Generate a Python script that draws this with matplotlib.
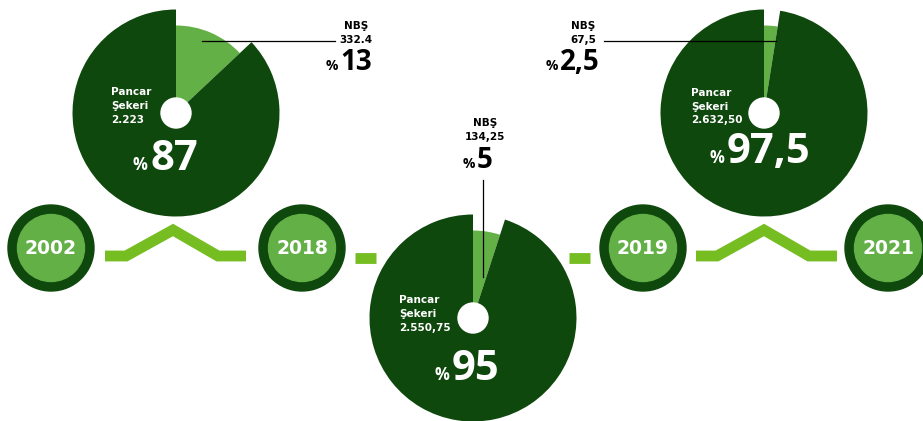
import matplotlib
matplotlib.use('Agg')
import matplotlib.pyplot as plt
from matplotlib.patches import Wedge, Circle

# ---- data ----
years = ['2002', '2018', '2019', '2021']
pancar_values = [2223, 2550.75, 2632.5]
pancar_labels = ['2.223', '2.550,75', '2.632,50']
pancar_pct_labels = ['87', '95', '97,5']
nbs_values = [332.4, 134.25, 67.5]
nbs_labels = ['332.4', '134,25', '67,5']
nbs_pct = [13, 5, 2.5]
nbs_pct_labels = ['13', '5', '2,5']

# ---- style ----
DARK = '#0f480c'
LIGHT = '#62b046'
LINE = '#76bd21'
W, H = 923, 421
FONT = ['Open Sans', 'DejaVu Sans']
SMALL = ['DejaVu Sans']

fig = plt.figure(figsize=(W / 100, H / 100), dpi=100)
ax = fig.add_axes([0, 0, 1, 1])
ax.set_xlim(0, W)
ax.set_ylim(H, 0)
ax.axis('off')

# ---- year circles ----
year_x = [51, 302, 643, 888]
year_y = 248
for x, yr in zip(year_x, years):
    ax.add_patch(Circle((x, year_y), 43, color=DARK, zorder=2))
    ax.add_patch(Circle((x, year_y), 33.5, color=LIGHT, zorder=3))
    ax.text(x, year_y + 1, yr, color='white', fontsize=13.5, fontweight='bold',
            family='DejaVu Sans', ha='center', va='center', zorder=4)

# ---- connectors ----
lw = 7.8
conn_y = 256
for x0 in (105, 696):
    xs = [x0, x0 + 21, x0 + 68, x0 + 113, x0 + 141]
    ys = [conn_y, conn_y, 230, conn_y, conn_y]
    ax.plot(xs, ys, color=LINE, lw=lw, solid_joinstyle='miter',
            solid_capstyle='butt', zorder=1)
for x0 in (355, 569):
    ax.plot([x0, x0 + 21], [258, 258], color=LINE, lw=lw,
            solid_capstyle='butt', zorder=1)

# ---- pies ----
centers = [(176, 113), (473, 318), (764, 113)]
R_DARK, R_LIGHT, R_HOLE = 103.5, 87.5, 15
for i, (cx, cy) in enumerate(centers):
    share = nbs_values[i] / (nbs_values[i] + pancar_values[i])
    a = share * 360
    ax.add_patch(Wedge((cx, cy), R_LIGHT, 270, 270 + a, color=LIGHT, zorder=5, lw=0))
    ax.add_patch(Wedge((cx, cy), R_DARK, 270 + a, 630, color=DARK, zorder=5, lw=0))
    ax.add_patch(Circle((cx, cy), R_HOLE, color='white', zorder=6))

# pancar labels
lab_x = [111, 399, 691]
lab_base = [(95, 109, 123), (303, 317, 331), (96, 110, 123)]
for i in range(3):
    for txt, yb in zip(['Pancar', 'Şekeri', pancar_labels[i]], lab_base[i]):
        ax.text(lab_x[i], yb, txt, color='white', fontsize=7.5, fontweight='bold',
                family=SMALL, ha='left', va='baseline', zorder=7)

# big percentages
big_x = [150, 452, 727]
big_base = [170, 380, 163]
for i in range(3):
    ax.text(big_x[i], big_base[i], pancar_pct_labels[i], color='white', fontsize=30,
            fontweight='bold', family=FONT, ha='left', va='baseline', zorder=7)
    ax.text(big_x[i] - 3, big_base[i], '%', color='white', fontsize=12,
            fontweight='bold', family=FONT, ha='right', va='baseline', zorder=7)

# NBS labels
nbs_cx = [356, 485, 583]
nbs_base = [(29, 43), (126, 140), (29, 43)]
nbs_num_x = [340, 477, 560]
nbs_num_base = [70, 168, 70]
for i in range(3):
    ax.text(nbs_cx[i], nbs_base[i][0], 'NBŞ', color='black', fontsize=7.5,
            fontweight='bold', family=SMALL, ha='center', va='baseline', zorder=7)
    ax.text(nbs_cx[i], nbs_base[i][1], nbs_labels[i], color='black', fontsize=7.5,
            fontweight='bold', family=SMALL, ha='center', va='baseline', zorder=7)
    ax.text(nbs_num_x[i], nbs_num_base[i], nbs_pct_labels[i], color='black',
            fontsize=20, fontweight='bold', family=FONT, ha='left', va='baseline', zorder=7)
    ax.text(nbs_num_x[i] - 2, nbs_num_base[i], '%', color='black', fontsize=10,
            fontweight='bold', family=FONT, ha='right', va='baseline', zorder=7)

# leader lines
ax.plot([202, 335], [41, 41], color='black', lw=0.9, zorder=8)
ax.plot([604, 776], [41, 41], color='black', lw=0.9, zorder=8)
ax.plot([483, 483], [180, 277], color='black', lw=0.9, zorder=8)

fig.savefig('out.png', dpi=100, facecolor='white')
